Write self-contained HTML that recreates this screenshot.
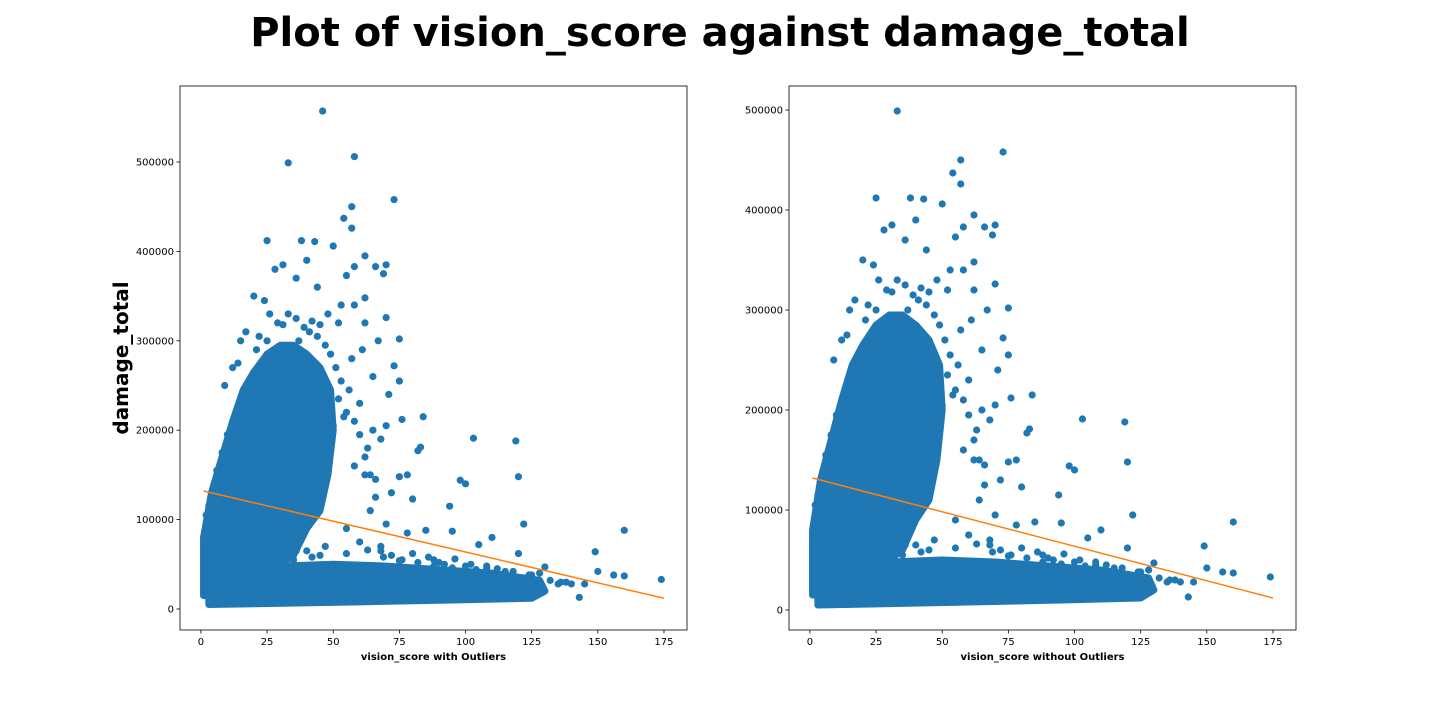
<!DOCTYPE html>
<html><head><meta charset="utf-8"><style>
html,body{margin:0;padding:0;background:#fff;}
svg{display:block;font-family:"DejaVu Sans","Liberation Sans",sans-serif;}
</style></head><body>
<svg id="chart" width="1440" height="720" viewBox="0 0 1440 720">
<text x="720" y="46" text-anchor="middle" font-size="40" font-weight="bold">Plot of vision_score against damage_total</text>
<text transform="translate(128,358) rotate(-90)" text-anchor="middle" font-size="20" font-weight="bold">damage_total</text>
</svg>
<script>
// Data (x = vision_score, y = damage_total in thousands)
const scatterX = [46,58,33,73,57,54,57,25,38,43,50,31,58,70,62,66,55,69,40,20,53,62,70,75,62,67,73,75,76,82,84,83,78,75,80,94,98,100,103,119,120,122,85,95,105,110,120,130,149,150,160,156,160,174,143,145,135,128,60,65,70,63,68,55,58,62,66,64,70,72,68,60,78,55,45,40,35,30,88,92,100,108,115,125,138,48,52,44,58,61,36,28,24,65,71,57,
  12,15,17,22,26,29,33,36,39,42,44,47,49,51,53,52,54,50,48,46,45,43,41,38,35,32,27,23,19,16,13,10,8,6,5,4,3,2,2,56,58,60,62,64,66,68,72,76,80,86,90,96,102,108,112,118,124,132,136,140,30,36,42,47,55,63,69,75,82,88,95,104,110,116,122,9,14,21,25,31,37,41,45];
const scatterY = [557,506,499,458,450,437,426,412,412,411,406,385,383,385,395,383,373,375,390,350,340,348,326,302,320,300,272,255,212,177,215,181,150,148,123,115,144,140,191,188,148,95,88,87,72,80,62,47,64,42,88,38,37,33,13,28,28,40,230,200,205,180,190,220,160,150,145,110,95,130,70,75,85,90,60,65,55,60,55,50,48,45,42,38,30,330,320,360,340,290,370,380,345,260,240,280,
  270,300,310,305,330,320,330,325,315,322,305,295,285,270,255,235,215,205,185,170,145,130,125,105,95,85,95,110,120,230,215,195,175,155,140,130,115,105,90,245,210,195,170,150,125,65,60,55,62,58,52,56,50,48,45,42,38,32,30,28,60,65,58,70,62,66,58,54,52,48,46,44,40,36,34,250,275,290,300,318,300,310,318];
const coreX = [1,1,4,8,12,16,20,25,30,35,40,45,49,50,48,45,40,35,30,20,10,4];
const coreY = [15,80,130,170,210,245,265,285,295,295,285,270,245,200,150,110,90,60,50,45,35,15];
const bandX = [3,60,95,125,130,128,110,90,70,50,30,10,3];
const bandY = [5,8,10,12,20,32,40,44,48,50,48,42,25];
const trendX = [1,175];
const trendY = [132,12];
const xTicks = [0,25,50,75,100,125,150,175];
const yTicks = [0,100000,200000,300000,400000,500000];

const NS = "http://www.w3.org/2000/svg";
const svg = document.getElementById("chart");
function mk(tag, attrs, parent){const e=document.createElementNS(NS,tag);for(const k in attrs)e.setAttribute(k,attrs[k]);(parent||svg).appendChild(e);return e;}

function panel(left, top, right, bottom, xmin, xmax, ymin, ymax, withOutliers, label, key){
  const g = mk("g",{});
  
  
  const sx = v => left + (v - xmin)/(xmax - xmin)*(right-left);
  const sy = v => bottom - (v*1000 - ymin)/(ymax - ymin)*(bottom-top);
  const col = "#1f77b4";
  const pts = (xs,ys)=>xs.map((x,i)=>sx(x)+","+sy(ys[i])).join(" ");
  const band = mk("polygon",{points:pts(bandX,bandY),fill:col,stroke:col,"stroke-width":7,"stroke-linejoin":"round"},g);
  
  
  const core = mk("polygon",{points:pts(coreX,coreY),fill:col,stroke:col,"stroke-width":7,"stroke-linejoin":"round"},g);
  
  
  for(let i=0;i<scatterX.length;i++){
    if(!withOutliers && scatterY[i]>500) continue;
    const c = mk("circle",{cx:sx(scatterX[i]),cy:sy(scatterY[i]),r:3.6,fill:col},g);
    
    
  }
  const t = mk("line",{x1:sx(trendX[0]),y1:sy(trendY[0]),x2:sx(trendX[1]),y2:sy(trendY[1]),stroke:"#ff7f0e","stroke-width":1.5},g);
  
  
  const fr = mk("rect",{x:left,y:top,width:right-left,height:bottom-top,fill:"none",stroke:"#000","stroke-width":0.8},g);
  
  
  xTicks.forEach(v=>{
    const x=sx(v);
    mk("line",{x1:x,y1:bottom,x2:x,y2:bottom+3.5,stroke:"#000","stroke-width":0.8},g);
    const tx=mk("text",{x:x,y:bottom+15,"text-anchor":"middle","font-size":10},g);
    tx.textContent=v;
    
    
  });
  yTicks.forEach(v=>{
    const y=sy(v/1000);
    mk("line",{x1:left-3.5,y1:y,x2:left,y2:y,stroke:"#000","stroke-width":0.8},g);
    const ty=mk("text",{x:left-6,y:y+3.5,"text-anchor":"end","font-size":10},g);
    ty.textContent=v;
    
    
  });
  const xl=mk("text",{x:(left+right)/2,y:bottom+30,"text-anchor":"middle","font-size":10,"font-weight":"bold"},g);
  xl.textContent=label;
  
  
}
panel(180,86,687,630,-7.9,183.7,-23500,585000,true,"vision_score with Outliers","left");
panel(789,86,1296,630,-7.9,183.7,-20000,524000,false,"vision_score without Outliers","right");
</script>
</body></html>
